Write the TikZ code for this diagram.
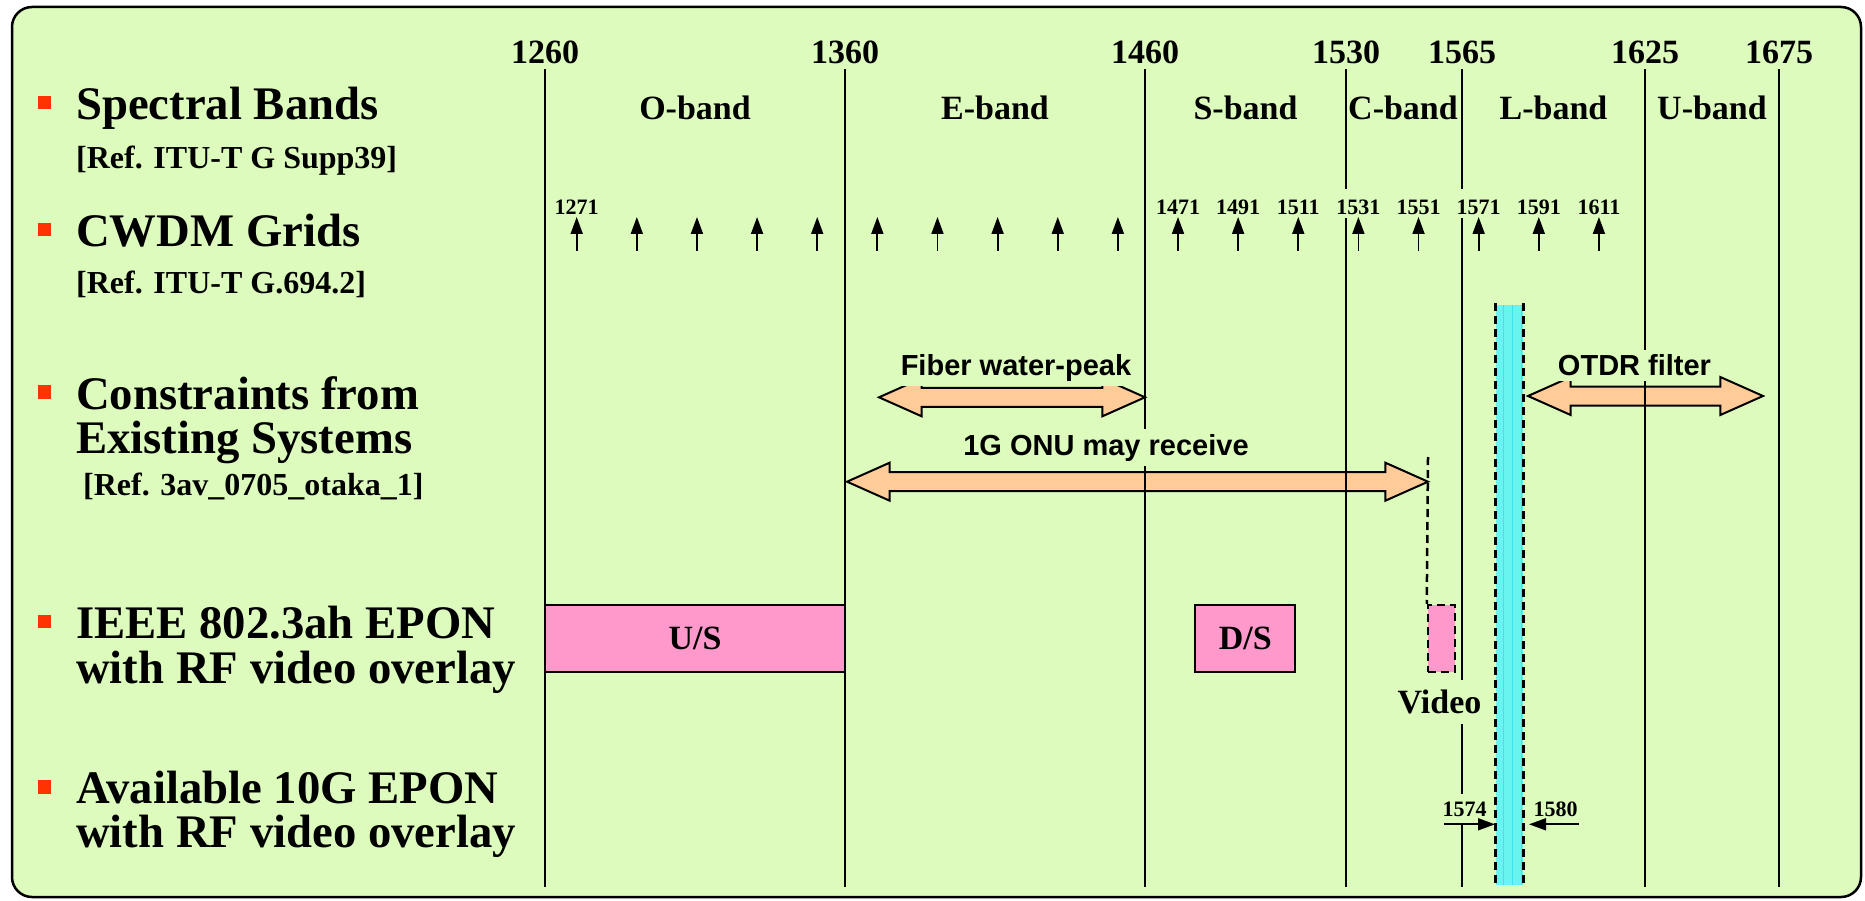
\documentclass[tikz,border=0pt]{standalone}
\usepackage{fontspec}
\setmainfont{Liberation Serif}
\newfontfamily\arialfont{Liberation Sans}
\usepackage{xcolor}
\usepackage{tikz}
\usetikzlibrary{positioning, arrows.meta, shapes.arrows}

\definecolor{bggreen}{RGB}{221,251,189}
\definecolor{peach}{RGB}{255,204,153}
\definecolor{rosefill}{RGB}{255,153,204}
\definecolor{bulletred}{RGB}{255,51,0}
\definecolor{cyanbar}{RGB}{105,244,240}
\definecolor{cyangrid}{RGB}{60,228,236}

\newcommand{\headfont}{\fontsize{46.7}{44.5}\selectfont\bfseries}
\newcommand{\reffont}{\fontsize{32}{36}\selectfont\bfseries}
\newcommand{\numfont}{\fontsize{34}{38}\selectfont\bfseries}
\newcommand{\gridfont}{\fontsize{22}{24}\selectfont\bfseries}
\newcommand{\labfont}{\arialfont\fontsize{29}{32}\selectfont\bfseries}

\begin{document}
\begin{tikzpicture}[x=1pt, y=-1pt,
			heading/.style={anchor=base west, align=left, inner sep=0pt, font=\headfont},
			ref/.style={anchor=base west, inner sep=0pt, font=\reffont},
			bullet/.style={fill=bulletred},
			edge/.style={line width=2pt},
			edgenum/.style={anchor=base, inner sep=0pt, font=\numfont},
			bandname/.style={anchor=base, inner sep=0pt, font=\numfont},
			gridnum/.style={anchor=base, fill=bggreen, inner xsep=1pt, inner ysep=4pt, text height=21pt, text depth=0pt, font=\gridfont},
			gridarrow/.style={line width=1.8pt, -{Triangle[length=17pt, width=12pt]}},
			fatarrow/.style={double arrow, draw, fill=peach, line width=2pt, inner sep=8.5pt,
				double arrow head extend=9.5pt, double arrow tip angle=48, minimum height=#1},
			labtext/.style={anchor=base, fill=bggreen, inner xsep=3pt, inner ysep=5pt, font=\labfont},
			bandbox/.style={draw, fill=rosefill, line width=2pt, inner sep=0pt, minimum height=67pt, font=\numfont},
			dashline/.style={line width=2.5pt, dash pattern=on 8pt off 5pt}
		]

		\useasboundingbox (0,0) rectangle (1865,901);

		% Frame
		\draw[line width=2.5pt, fill=bggreen, rounded corners=20pt] (12,7) rectangle (1861,897);

		% Left column
		\foreach \y in {96, 222.7, 385, 614.5, 780}
			\fill[bullet] (37.5,\y) rectangle ++(13.5,13.5);
		\node[heading] (spectral) at (76,120) {Spectral Bands};
		\node[ref] (spectralref) at (76,168.3) {[Ref. ITU-T G Supp39]};
		\node[heading] (cwdm) at (76,246.7) {CWDM Grids};
		\node[ref] (cwdmref) at (76,293.3) {[Ref. ITU-T G.694.2]};
		\node[heading] (constraints) at (76,453.5) {Constraints from\\Existing Systems};
		\node[ref] (constraintsref) at (83,495.9) {[Ref. 3av\_0705\_otaka\_1]};
		\node[heading] (epon) at (76,683.1) {IEEE 802.3ah EPON\\with RF video overlay};
		\node[heading] (tengepon) at (76,847.5) {Available 10G EPON\\with RF video overlay};

		% Constraint arrows
		\node[fatarrow=266pt] (waterpeak) at (1012,397.3) {};
		\node[fatarrow=581pt] (onurx) at (1137.5,481.7) {};
		\node[fatarrow=235pt] (otdr) at (1645.5,396) {};

		% EPON boxes
		\node[bandbox, minimum width=300pt] (us) at (695,638) {U/S};
		\node[bandbox, minimum width=100pt] (ds) at (1245.3,638) {D/S};
		\node[bandbox, dashline, minimum width=27pt] (video) at (1441.5,638.5) {};
		\coordinate (onutip) at (1428,457);
		\draw[dashline] (onutip) -- (video.north west);

		% 10G window
		\fill[cyanbar] (1496,305) rectangle (1523,885);
		\draw[cyangrid, line width=0.6pt, step=9] (1496,305) grid (1523,885);
		\draw[dashline] (1495.5,303) -- (1495.5,885);
		\draw[dashline] (1523.5,303) -- (1523.5,885);

		% Band edges
		\foreach \x/\nm in {545/1260, 845/1360, 1145/1460, 1346/1530, 1462/1565, 1645/1625, 1779/1675} {
			\draw[edge] (\x,69) -- (\x,887);
			\node[edgenum] (e\nm) at (\x,63.3) {\nm};
		}
		\foreach \x/\b in {695/O, 995/E, 1245.5/S, 1403/C, 1553.5/L, 1712/U}
			\node[bandname] (band\b) at (\x,120) {\b-band};

		% CWDM grid
		\foreach \i/\w in {0/1271, 10/1471, 11/1491, 12/1511, 13/1531, 14/1551, 15/1571, 16/1591, 17/1611}
			\node[gridnum] (g\w) at ({576.7+60.13*\i},214.5) {\w};
		\foreach \i in {0,...,17}
			\draw[gridarrow] ({576.7+60.13*\i},251) -- ++(0,-34);

		% Labels
		\node[labtext] (waterlabel) at (1016,375) {Fiber water-peak};
		\node[labtext] (onulabel) at (1106,455) {1G ONU may receive};
		\node[labtext] (otdrlabel) at (1634.5,375.7) {OTDR filter};
		\node[labtext, font=\numfont, inner xsep=2pt, inner ysep=10pt] (videolabel) at (1439.5,713.3) {Video};
		\node[gridnum, text height=16pt, inner ysep=7pt] (lo) at (1464.5,816.7) {1574};
		\node[gridnum, text height=16pt, inner ysep=7pt] (hi) at (1555.5,816.7) {1580};
		\coordinate (lostart) at (1444,824.3);
		\coordinate (histart) at (1579,824.3);
		\draw[gridarrow] (lostart) -- (1495,824.3);
		\draw[gridarrow] (histart) -- (1529,824.3);

\end{tikzpicture}
\end{document}
